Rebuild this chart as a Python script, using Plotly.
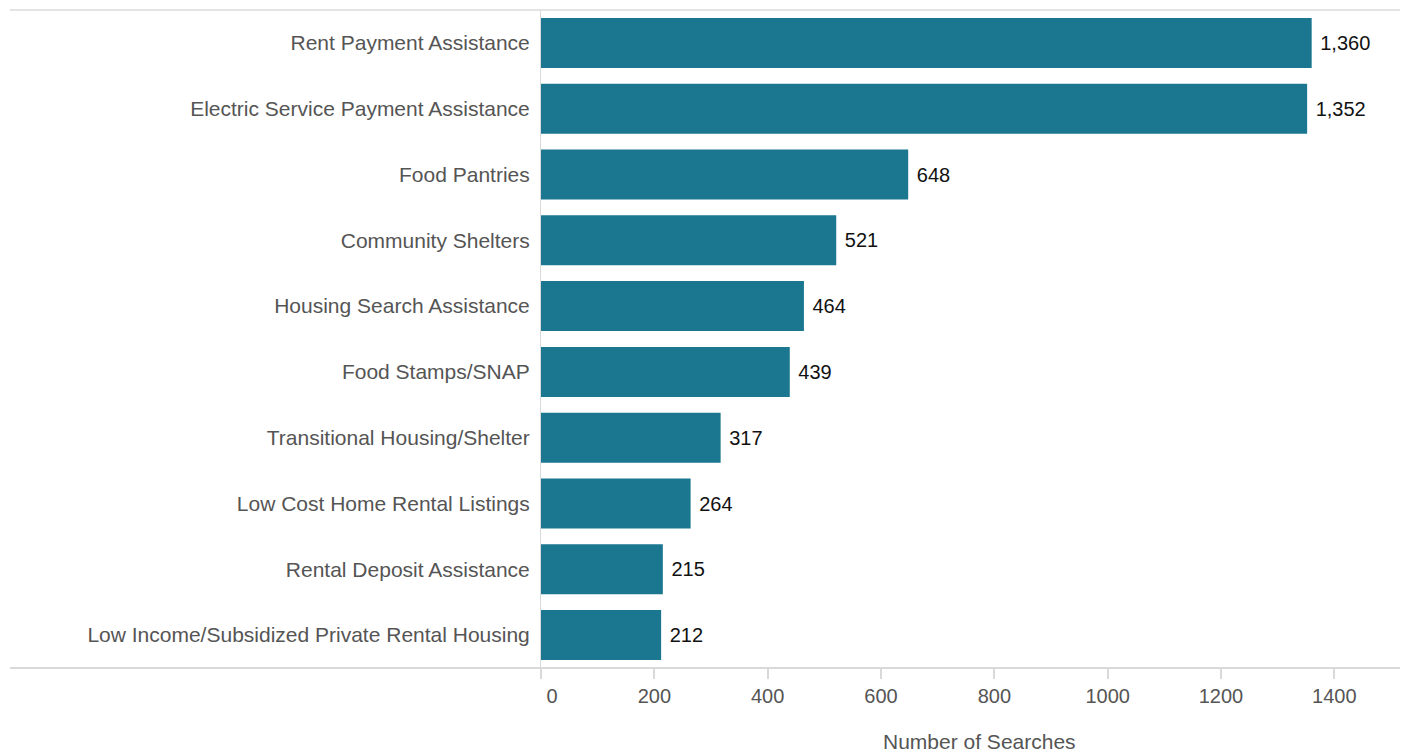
import plotly.graph_objects as go

categories = [
    "Rent Payment Assistance",
    "Electric Service Payment Assistance",
    "Food Pantries",
    "Community Shelters",
    "Housing Search Assistance",
    "Food Stamps/SNAP",
    "Transitional Housing/Shelter",
    "Low Cost Home Rental Listings",
    "Rental Deposit Assistance",
    "Low Income/Subsidized Private Rental Housing",
]
searches = [1360, 1352, 648, 521, 464, 439, 317, 264, 215, 212]

tick_vals = [0, 200, 400, 600, 800, 1000, 1200, 1400]
tick_text = ["\u00a0\u00a0\u00a0\u00a00", "200", "400", "600", "800", "1000", "1200", "1400"]
axis_title = "Number of Searches"

FONT = "Liberation Sans, Arial, Helvetica, sans-serif"
BAR = "#1a778f"
LINE = "#d9d9d9"
GREY = "#555555"

fig = go.Figure(
    go.Bar(
        x=searches,
        y=categories,
        orientation="h",
        marker=dict(color=BAR, line=dict(width=0)),
        texttemplate="\u00a0%{x:,}",
        textposition="outside",
        textfont=dict(family=FONT, size=20, color="#111111"),
        cliponaxis=False,
        hoverinfo="skip",
    )
)

fig.update_layout(
    width=1400,
    height=745,
    margin=dict(l=533, r=0, t=2, b=85),
    paper_bgcolor="white",
    plot_bgcolor="white",
    bargap=0.24,
    showlegend=False,
    font=dict(family=FONT, size=20, color=GREY),
    xaxis=dict(
        range=[0, 1530],
        tickvals=tick_vals,
        ticktext=tick_text,
        ticks="outside",
        ticklen=10,
        tickwidth=2,
        tickcolor=LINE,
        showgrid=False,
        zeroline=False,
        showline=False,
        tickfont=dict(family=FONT, size=20, color=GREY),
        automargin=False,
    ),
    yaxis=dict(
        autorange="reversed",
        showgrid=False,
        zeroline=False,
        showline=True,
        linecolor=LINE,
        linewidth=1,
        ticks="",
        ticklabelstandoff=6,
        tickfont=dict(family=FONT, size=21, color=GREY),
        automargin=False,
    ),
    shapes=[
        dict(type="line", xref="paper", yref="paper", x0=-0.6125, x1=1, y0=1, y1=1,
             line=dict(color="#e3e3e3", width=2), layer="above"),
        dict(type="line", xref="paper", yref="paper", x0=-0.6125, x1=1, y0=0, y1=0,
             line=dict(color=LINE, width=2), layer="above"),
    ],
    annotations=[
        dict(text=axis_title, xref="paper", yref="paper", x=0.5063, y=-0.111,
             xanchor="center", yanchor="middle", showarrow=False,
             font=dict(family=FONT, size=21, color=GREY)),
    ],
)

fig.write_html("out.html")
